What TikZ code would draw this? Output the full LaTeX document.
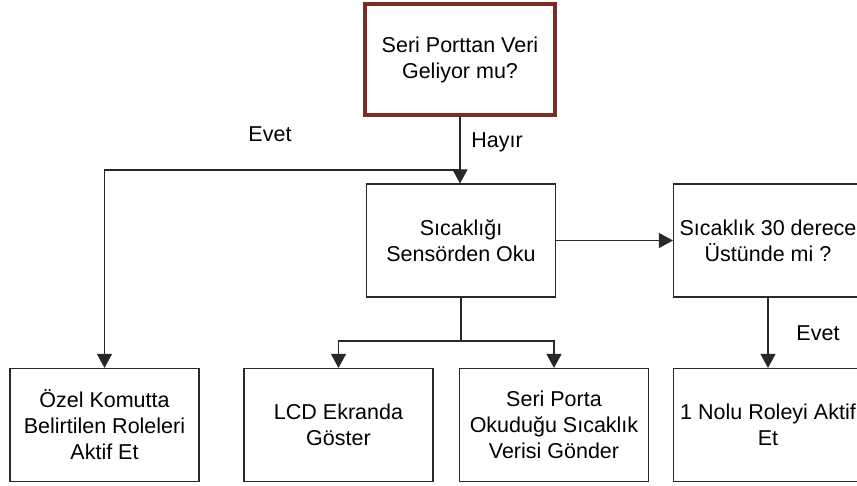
\documentclass[tikz,border=0pt]{standalone}
\usepackage{fontspec}
\setmainfont{Liberation Sans}
\usetikzlibrary{arrows.meta}
\definecolor{framered}{RGB}{122,45,40}
\definecolor{linegray}{RGB}{40,40,40}
\begin{document}
\begin{tikzpicture}[x=1pt,y=-1pt,
  txt/.style={font=\fontsize{21.5}{26}\selectfont, align=center, text=black},
  box/.style={txt, draw=linegray, line width=1.1pt, fill=white,
    minimum width=189pt, minimum height=113pt, inner sep=0pt},
  mainbox/.style={box, draw=framered, line width=4pt,
    minimum width=190pt, minimum height=111pt},
  arr/.style={draw=linegray, line width=1.1pt,
    -{Triangle[length=14pt 0 0,width=15pt 0 0]}},
  ln/.style={draw=linegray, line width=1.1pt}]
\useasboundingbox (0,0) rectangle (857,486);
\clip (0,0) rectangle (857,486);

% process boxes
\node[mainbox] (port) at (460,59.5) {Seri Porttan Veri\\Geliyor mu?};
\node[box] (sensor) at (461,240.5) {Sıcaklığı\\Sensörden Oku};
\node[box] (check) at (768,240.5) {Sıcaklık 30 derece\\Üstünde mi ?};
\node[box] (ozel) at (104.5,425) {Özel Komutta\\Belirtilen Roleleri\\Aktif Et};
\node[box] (lcd) at (338.5,425) {LCD Ekranda\\Göster};
\node[box] (send) at (554,425) {Seri Porta\\Okuduğu Sıcaklık\\Verisi Gönder};
\node[box] (role) at (768,425) {1 Nolu Roleyi Aktif\\Et};

% junction points
\coordinate (j1) at (460,170);
\coordinate (j2) at (461,341);

% connectors
\draw[arr] (port.south) -- (port.south |- sensor.north);
\draw[arr] (j1) -| (ozel.north);
\draw[ln] (sensor.south) -- (j2);
\draw[arr] (j2) -| (lcd.north);
\draw[arr] (j2) -| (send.north);
\draw[arr] (sensor.east) -- (check.west);
\draw[arr] (check.south) -- (role.north);

% branch labels
\node[txt] (hayir) at (497,142) {Hayır};
\node[txt] (evet1) at (270,134) {Evet};
\node[txt] (evet2) at (818,333) {Evet};
\end{tikzpicture}
\end{document}
